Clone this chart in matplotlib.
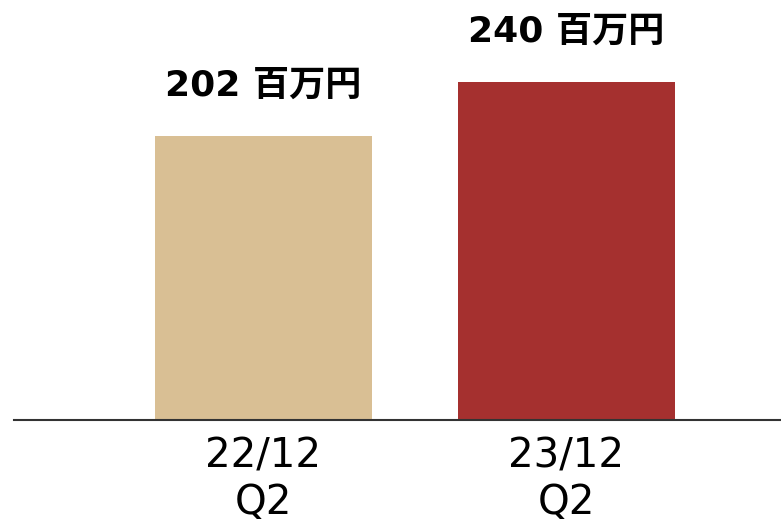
import matplotlib.pyplot as plt

categorias = ['22/12\nQ2', '23/12\nQ2']
valores = [202, 240]
etiquetas = ['202 百万円', '240 百万円']
colores = ['#D9BF94', '#A5302F']

plt.rcParams['font.family'] = ['DejaVu Sans', 'Noto Sans CJK JP']

fig = plt.figure(figsize=(7.81, 5.29), dpi=100)
ax = fig.add_axes([0.018, 0.206, 0.982, 0.794])

x = range(len(valores))
barras = ax.bar(x, valores, width=0.716, color=colores, zorder=2)

for b, txt in zip(barras, etiquetas):
    ax.annotate(txt, (b.get_x() + b.get_width() / 2, b.get_height()),
                xytext=(0, 24), textcoords='offset points',
                ha='center', va='bottom', fontsize=26, fontweight='bold')

ax.set_xlim(-0.823, 1.708)
ax.set_ylim(0, 298.5)
ax.set_yticks([])
ax.set_xticks(list(x))
ax.set_xticklabels(categorias, fontsize=29, linespacing=1.2)
ax.tick_params(axis='x', length=0, pad=12)

for s in ['top', 'right', 'left']:
    ax.spines[s].set_visible(False)
ax.spines['bottom'].set_color('#333333')
ax.spines['bottom'].set_linewidth(1.5)

fig.savefig('out.png', dpi=100)
